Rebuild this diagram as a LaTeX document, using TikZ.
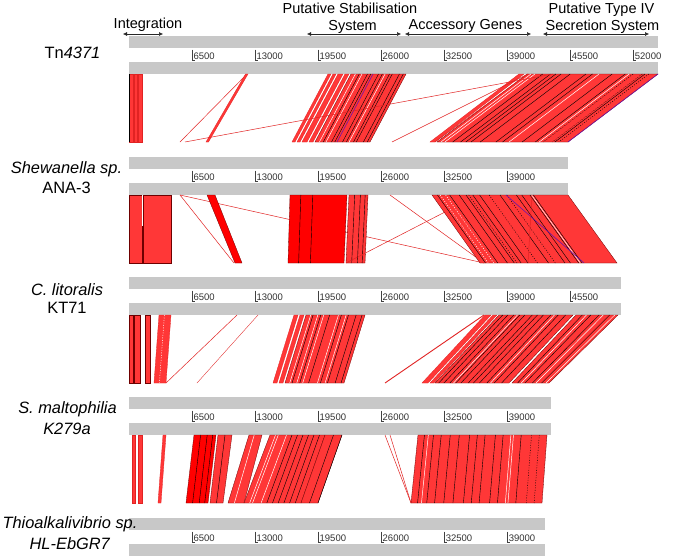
\documentclass[tikz,border=0pt]{standalone}
\usepackage{fontspec}
\setmainfont{Liberation Sans}
\usetikzlibrary{arrows.meta}
\definecolor{bargrey}{RGB}{200,200,200}
\definecolor{mred}{RGB}{255,55,55}
\definecolor{mpure}{RGB}{255,0,0}
\definecolor{medge}{RGB}{110,0,0}
\definecolor{mlinecol}{RGB}{225,35,35}
\definecolor{mpurp}{RGB}{110,20,170}
\newcommand\hdrfnt{\fontsize{14.5}{16}\selectfont}
\newcommand\labfnt{\fontsize{16.4}{18}\selectfont}
\newcommand\tickfnt{\fontsize{9.5}{10}\selectfont}
\tikzset{
  genbar/.style={fill=bargrey, draw=none},
  matchfill/.style={fill=mred, draw=medge, line width=0.3pt},
  redline/.style={draw=mlinecol, line width=0.5pt},
  blackline/.style={draw=black, line width=0.4pt},
  whiteline/.style={draw=white, line width=0.5pt},
  whitedash/.style={draw=white, line width=0.5pt, dash pattern=on 1pt off 1.5pt},
  blackdash/.style={draw=black, line width=0.4pt, dash pattern=on 1pt off 1.5pt},
  purpline/.style={draw=mpurp, line width=0.6pt},
  tickline/.style={draw=black!75, line width=0.45pt},
  ticklab/.style={font=\tickfnt, anchor=base west, inner sep=0pt, text=black!80},
  hdr/.style={font=\hdrfnt, anchor=base, inner sep=0pt},
  glab/.style={font=\labfnt, anchor=base, inner sep=0pt},
  spanarrow/.style={draw=black!85, line width=0.5pt, {Latex[length=4pt,width=4pt]}-{Latex[length=4pt,width=4pt]}},
}
% quadrilateral match between the two genomes of the current band
\newcommand\matchq[5][]{\path[matchfill,#1] (#2,\bandtop) -- (#3,\bandtop) -- (#5,\bandbot) -- (#4,\bandbot) -- cycle;}
% lines inside a match block at fractions of its width
\newcommand\matchl[6][]{\foreach \fr in {#6}{\draw[#1] ({#2+\fr*(#3-#2)},\bandtop) -- ({#4+\fr*(#5-#4)},\bandbot);}}
% genome: two grey bars and the scale
\newcommand\genomebar[4]{%
  \fill[genbar] (129,#1) rectangle (#2,#1+11.5);
  \fill[genbar] (129,#1+26) rectangle (#2,#1+38);
  \foreach \k in {1,...,#3}{%
    \pgfmathsetmacro\tx{129+\k*63.05}%
    \draw[tickline] (\tx,#1+13.5) -- (\tx,#1+24.5) -- (\tx+3,#1+24.5);
    \node[ticklab] (tick#4\k) at (\tx+1.3,#1+23.5) {\the\numexpr\k*6500\relax};
  }}
\begin{document}
\begin{tikzpicture}[x=1pt,y=-1pt]
\useasboundingbox (0,0) rectangle (685,557);
\fill[white] (0,0) rectangle (685,557);

% ---------- genome bars ----------
\genomebar{36}{658}{8}{A}
\genomebar{157}{568}{6}{B}
\genomebar{277}{621}{7}{C}
\genomebar{397}{551}{6}{D}
\genomebar{518}{545}{6}{E}

% ---------- header ----------
\node[hdr] (hInt) at (148,28) {Integration};
\node[hdr] (hStabA) at (350,13) {Putative Stabilisation};
\node[hdr] (hStabB) at (352.5,30) {System};
\node[hdr] (hAcc) at (465.5,29) {Accessory Genes};
\node[hdr] (hTivA) at (601.5,13.5) {Putative Type IV};
\node[hdr] (hTivB) at (602.5,30) {Secretion System};
\coordinate (aIntL) at (123,34); \coordinate (aIntR) at (163,34);
\coordinate (aStL) at (307,34);  \coordinate (aStR) at (401,34);
\coordinate (aAcL) at (405,34);  \coordinate (aAcR) at (531,34);
\coordinate (aTvL) at (543,34);  \coordinate (aTvR) at (649,34);
\draw[spanarrow] (aIntL) -- (aIntR);
\draw[spanarrow] (aStL) -- (aStR);
\draw[spanarrow] (aAcL) -- (aAcR);
\draw[spanarrow] (aTvL) -- (aTvR);

% ---------- genome labels (drawn over the bars) ----------
\node[glab] (g1) at (72.5,58) {Tn\textit{4371}};
\node[glab] (g2a) at (66.5,173) {\textit{Shewanella sp.}};
\node[glab] (g2b) at (66.5,193) {ANA-3};
\node[glab] (g3a) at (67,295) {\textit{C. litoralis}};
\node[glab] (g3b) at (67,313) {KT71};
\node[glab] (g4a) at (67.5,413) {\textit{S. maltophilia}};
\node[glab] (g4b) at (67,434) {\textit{K279a}};
\node[glab] (g5a) at (70,528) {\textit{Thioalkalivibrio sp.}};
\node[glab] (g5b) at (70,549) {\textit{HL-EbGR7}};

% ---------- band 1: Tn4371 vs Shewanella ----------
\def\bandtop{74}\def\bandbot{142}
\matchq[draw=mlinecol]{129}{133}{129}{133}
\matchq[draw=mlinecol]{134}{137.5}{134}{137.5}
\matchq[draw=mlinecol]{138.5}{142}{138.5}{142}
\draw[black, line width=0.5pt] (129.2,\bandtop) -- (129.2,\bandbot);
\draw[redline] (247,\bandtop) -- (180,\bandbot);
\matchq[draw=mlinecol]{245.5}{248}{206}{208.5}
\matchq[draw=mlinecol]{328}{331}{292}{295}
\matchq[draw=mlinecol]{333}{336}{297}{300}
\matchq[draw=mlinecol]{338}{343}{302}{307}
\matchq[draw=mlinecol]{345}{349}{309}{313}
\matchq{351}{406}{315}{370}
\matchl[whiteline]{351}{406}{315}{370}{0.08,0.2,0.62}
\matchl[blackline]{351}{406}{315}{370}{0.15,0.3,0.36,0.5,0.57,0.7,0.75,0.88,0.95}
\draw[purpline] ({351+0.4*55},\bandtop) -- ({315+0.4*55},\bandbot);
\matchq[draw=mlinecol]{519}{524}{430}{435}
\matchq{527}{658}{437}{568}
\matchl[whiteline]{527}{658}{437}{568}{0.03,0.06,0.55,0.78}
\matchl[blackline]{527}{658}{437}{568}{0.12,0.18,0.22,0.26,0.33,0.45,0.5,0.65,0.75,0.9}
\matchl[blackdash]{527}{658}{437}{568}{0.81,0.88,0.93}
\draw[purpline] (658,\bandtop) -- (568,\bandbot);
\draw[redline] (185,\bandbot) -- (553,\bandtop);
\draw[redline] (392,\bandbot) -- (528,\bandtop);
\draw[redline] (435,\bandbot) -- (528,\bandtop);

% ---------- band 2: Shewanella vs C. litoralis ----------
\def\bandtop{195}\def\bandbot{263}
\draw[redline] (180,\bandtop) -- (484,\bandbot);
\draw[redline] (180,\bandtop) -- (234,\bandbot);
\matchq{129}{142}{129}{142}
\matchq{143}{171}{143}{171}
\draw[whiteline] (142.7,195) -- (142.7,226);
\matchq[fill=mpure]{207}{215}{235}{242}
\matchq[fill=mpure]{290}{347}{288}{344}
\matchl[blackline]{290}{347}{288}{344}{0.19,0.4}
\matchq{349}{368}{346}{365}
\matchl[blackline]{349}{368}{346}{365}{0.3,0.6,0.85}
\draw[redline] (390,\bandtop) -- (484,\bandbot);
\draw[redline] (346,\bandbot) -- (478,\bandtop);
\matchq{432}{568}{480}{617}
\matchl[whitedash]{432}{568}{480}{617}{0.06,0.1}
\matchl[blackline]{432}{568}{480}{617}{0.04,0.13,0.2,0.25,0.3,0.35,0.5,0.62,0.66,0.72,0.745}
\matchl[whiteline]{432}{568}{480}{617}{0.732}
\matchl[blackdash]{432}{568}{480}{617}{0.27,0.42,0.55}
\draw[purpline] (506,\bandtop) -- (584,\bandbot);
\draw[redline] (532,\bandtop) -- (528,\bandbot);

% ---------- band 3: C. litoralis vs S. maltophilia ----------
\def\bandtop{315}\def\bandbot{383}
\matchq{129}{133}{129}{133}
\matchq{134}{140}{134}{140}
\matchq{145}{150.5}{145}{150.5}
\matchq[draw=mlinecol]{159}{171}{154}{166}
\matchl[whitedash]{159}{171}{154}{166}{0.45}
\draw[redline] (237,\bandtop) -- (166,\bandbot);
\draw[redline, line width=0.35pt] (258,\bandtop) -- (197,\bandbot);
\matchq[draw=mlinecol]{294}{298}{273}{277}
\matchq[draw=mlinecol]{300}{304}{279}{283}
\matchq{306}{365}{285}{344}
\matchl[whiteline]{306}{365}{285}{344}{0.08,0.2,0.3,0.55,0.68}
\matchl[blackline]{306}{365}{285}{344}{0.12,0.25,0.4,0.6,0.72,0.85,0.95}
\draw[redline, line width=0.9pt] (484,\bandtop) -- (385,\bandbot);
\matchq[draw=mlinecol]{485}{491}{422}{428}
\matchq[draw=mlinecol]{493}{497}{430}{434}
\matchq{499}{573}{435}{509}
\matchl[blackline]{499}{573}{435}{509}{0.05,0.12,0.2,0.28,0.35,0.45,0.52,0.6,0.7,0.8,0.9}
\matchl[whiteline]{499}{573}{435}{509}{0.25,0.75}
\matchq{576}{618}{512}{549}
\matchl[blackline]{576}{618}{512}{549}{0.15,0.35,0.55,0.8}
\matchl[whiteline]{576}{618}{512}{549}{0.25,0.65,0.92}

% ---------- band 4: S. maltophilia vs Thioalkalivibrio ----------
\def\bandtop{435}\def\bandbot{503}
\matchq[draw=mlinecol]{132}{135}{132}{135}
\matchq[draw=mlinecol]{138}{142}{138}{142}
\matchq[draw=mlinecol]{163}{166}{158}{161}
\matchq[fill=mpure]{194}{216}{186}{208}
\matchl[blackline]{194}{216}{186}{208}{0.3,0.6,0.85}
\matchq{218}{232}{210}{223}
\matchl[blackline]{218}{232}{210}{223}{0.5}
\matchq{249}{262}{228}{244}
\matchl[whiteline]{249}{262}{228}{244}{0.4}
\matchq{270}{325}{244}{301}
\matchl[whiteline]{270}{325}{244}{301}{0.1,0.15,0.3}
\matchl[blackline]{270}{325}{244}{301}{0.4,0.5,0.6,0.7,0.8,0.9}
\matchq{325}{342}{301}{318}
\matchl[blackline]{325}{342}{301}{318}{0.5,1}
\draw[redline] (385,\bandtop) -- (411,\bandbot);
\draw[redline] (390,\bandtop) -- (411,\bandbot);
\matchq{418}{547}{411}{542}
\matchl[whiteline]{418}{547}{411}{542}{0.08,0.72,0.74}
\matchl[blackline]{418}{547}{411}{542}{0.05,0.12,0.18,0.25,0.32,0.4,0.46,0.52,0.6,0.66,0.8}
\matchl[blackdash]{418}{547}{411}{542}{0.88,0.94}
\end{tikzpicture}
\end{document}
